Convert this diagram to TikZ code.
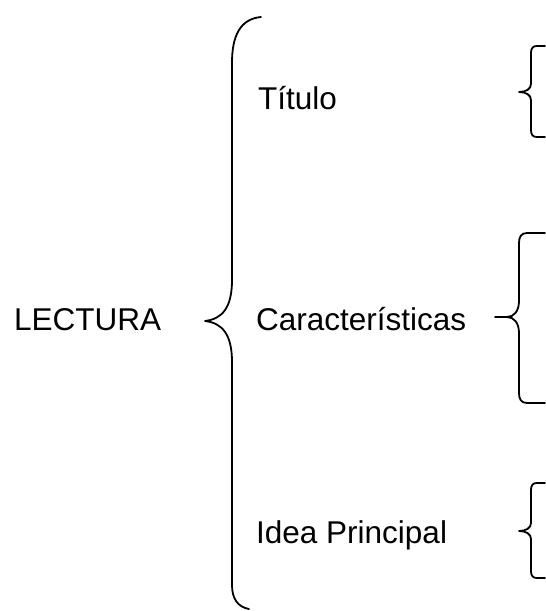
\documentclass[tikz,border=0pt]{standalone}
\usepackage{fontspec}
\setmainfont{Liberation Sans}
\usetikzlibrary{positioning}

\begin{document}
\begin{tikzpicture}[
        x=1pt, y=1pt,
        texto/.style = {inner sep=0pt, anchor=base west, font=\fontsize{31.5}{36}\selectfont},
        llave/.style = {draw, line width=1.8pt, line cap=round, line join=round}
    ]
    \useasboundingbox (0,0) rectangle (546,611);

    \node[texto] (lectura) at (14,280) {LECTURA};
    \node[texto] (caract) at ([xshift=242pt]lectura.base west) {Características};
    \node[texto] (titulo) at ([xshift=2pt, yshift=221pt]caract.base west) {Título};
    \node[texto] (idea) at ([yshift=-213pt]caract.base west) {Idea Principal};

    % llave grande
    \draw[llave] (261,594)
        .. controls (240,592) and (232,575) .. (232,548)
        -- (232,331)
        .. controls (232,303) and (222,292) .. (205,290)
        .. controls (222,288) and (232,277) .. (232,249)
        -- (232,26)
        .. controls (232,12) and (238,4) .. (249,2);

    % llave de Titulo
    \draw[llave] (545,565) -- (537,565)
        .. controls (533,565) and (531,563) .. (531,558)
        -- (531,527)
        .. controls (531,522) and (526,519) .. (519,519)
        .. controls (526,519) and (531,516) .. (531,511)
        -- (531,481)
        .. controls (531,476) and (533,474) .. (537,474) -- (545,474);

    % llave de Caracteristicas
    \draw[llave] (545,378) -- (527,378)
        .. controls (521,378) and (519,374) .. (519,368)
        -- (519,310)
        .. controls (519,300) and (514,294) .. (507,294) -- (495,294)
        (507,294)
        .. controls (514,294) and (519,288) .. (519,278)
        -- (519,218)
        .. controls (519,212) and (521,208) .. (527,208) -- (545,208);

    % llave de Idea Principal
    \draw[llave] (545,128) -- (537,128)
        .. controls (533,128) and (531,126) .. (531,121)
        -- (531,88)
        .. controls (531,83) and (526,80) .. (519,80)
        .. controls (526,80) and (531,77) .. (531,72)
        -- (531,40)
        .. controls (531,35) and (533,33) .. (537,33) -- (545,33);
\end{tikzpicture}
\end{document}
